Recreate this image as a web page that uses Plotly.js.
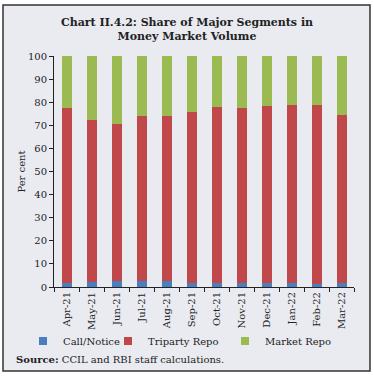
<!DOCTYPE html>
<html>
<head>
<meta charset="utf-8">
<script src="https://cdn.plot.ly/plotly-3.0.1.min.js"></script>
<style>
html,body{margin:0;padding:0;background:#ffffff;}
#chart{width:374px;height:376px;}
</style>
</head>
<body>
<div id="chart"></div>
<script>
const months = ["Apr-21","May-21","Jun-21","Jul-21","Aug-21","Sep-21","Oct-21","Nov-21","Dec-21","Jan-22","Feb-22","Mar-22"];
const callNotice = [1.9, 2.2, 2.6, 2.6, 2.6, 1.9, 1.7, 1.7, 1.7, 1.7, 1.4, 1.7];
const tripartyRepo = [75.7, 70.0, 68.0, 71.4, 71.4, 74.0, 76.4, 75.8, 76.8, 77.2, 77.5, 72.8];
const marketRepo = [22.4, 27.8, 29.4, 26.0, 26.0, 24.1, 21.9, 22.5, 21.5, 21.1, 21.1, 25.5];
const yTicks = [0,10,20,30,40,50,60,70,80,90,100];

const seriesNames = ["Call/Notice","Triparty Repo","Market Repo"];
const seriesColors = ["#4a7ebf","#c0474a","#9bbb52"];
const seriesData = [callNotice, tripartyRepo, marketRepo];
const legendIds = ["legend","legend2","legend3"];

const FONT = "DejaVu Serif, Liberation Serif, serif";

const traces = [];
seriesData.forEach((vals, i) => {
  traces.push({
    type: "bar", x: months, y: vals, name: seriesNames[i],
    marker: {color: seriesColors[i], line: {width: 0}},
    showlegend: false, legendgroup: seriesNames[i], hoverinfo: "x+y+name"
  });
});
seriesData.forEach((vals, i) => {
  traces.push({
    type: "scatter", mode: "markers", x: [null], y: [null], name: seriesNames[i],
    marker: {color: seriesColors[i], symbol: "square", size: 8},
    legend: legendIds[i], legendgroup: seriesNames[i], showlegend: true, hoverinfo: "skip"
  });
});

const W = 374, H = 376, L = 54, R = 20, T = 56, B = 89;
const pw = W - L - R, ph = H - T - B;
const px = v => (v - L) / pw;
const py = v => (H - B - v) / ph;

const legendBase = {orientation: "h", bgcolor: "rgba(0,0,0,0)", borderwidth: 0,
  font: {family: FONT, size: 10, color: "#222"}, xanchor: "left", yanchor: "middle",
  y: py(341), itemclick: false, itemdoubleclick: false};

const layout = {
  width: W, height: H,
  margin: {l: L, r: R, t: T, b: B, pad: 0},
  paper_bgcolor: "#ffffff",
  plot_bgcolor: "rgba(0,0,0,0)",
  barmode: "stack",
  bargap: 0.6,
  font: {family: FONT, size: 10, color: "#222"},
  title: {
    text: "<b>Chart II.4.2: Share of Major Segments in<br>Money Market Volume</b>",
    font: {family: FONT, size: 11, color: "#222"},
    x: 0.5, xref: "container", xanchor: "center",
    y: (H - 26) / H, yref: "container", yanchor: "top"
  },
  xaxis: {
    type: "category",
    tickangle: -90,
    ticks: "outside", tickson: "boundaries", ticklen: 4, tickcolor: "#222", tickwidth: 1,
    showline: true, linecolor: "#222", linewidth: 1,
    showgrid: false, zeroline: false,
    tickfont: {family: FONT, size: 10, color: "#222"},
    fixedrange: true
  },
  yaxis: {
    range: [0, 100],
    tickvals: yTicks,
    ticks: "outside", ticklen: 4, tickcolor: "#222", tickwidth: 1,
    showline: true, linecolor: "#222", linewidth: 1,
    showgrid: false, zeroline: false,
    tickfont: {family: FONT, size: 10, color: "#222"},
    title: {text: "Per cent", font: {family: FONT, size: 10, color: "#222"}, standoff: 0},
    fixedrange: true
  },
  legend: Object.assign({}, legendBase, {x: px(23)}),
  legend2: Object.assign({}, legendBase, {x: px(108)}),
  legend3: Object.assign({}, legendBase, {x: px(225)}),
  shapes: [{
    type: "rect", xref: "paper", yref: "paper", layer: "below",
    x0: px(3), x1: px(370), y0: py(371), y1: py(5),
    fillcolor: "#e9ebf0", line: {color: "#333", width: 1.5}
  }],
  annotations: [{
    text: "<b>Source:</b> CCIL and RBI staff calculations.",
    xref: "paper", yref: "paper", x: px(14), y: py(359),
    xanchor: "left", yanchor: "middle", showarrow: false,
    font: {family: FONT, size: 10, color: "#222"}
  }]
};

Plotly.newPlot("chart", traces, layout, {displayModeBar: false, staticPlot: true});
</script>
</body>
</html>
